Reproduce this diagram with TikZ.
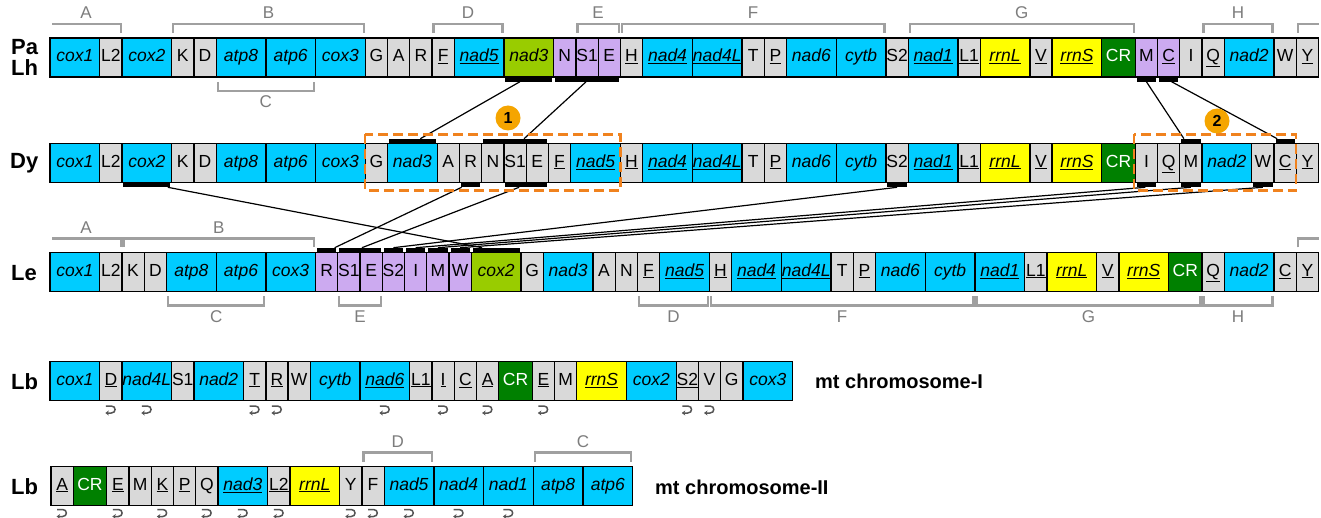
\documentclass[tikz,border=0pt]{standalone}
\usepackage{fontspec}
\setmainfont{Liberation Sans}
\usetikzlibrary{positioning,calc,arrows.meta}
\definecolor{geneC}{RGB}{0,204,255}
\definecolor{trnaC}{RGB}{217,217,217}
\definecolor{purpC}{RGB}{204,170,240}
\definecolor{limeC}{RGB}{153,204,0}
\definecolor{rrnaC}{RGB}{255,255,0}
\definecolor{crC}{RGB}{0,128,0}
\definecolor{brkC}{RGB}{160,160,160}
\definecolor{brkT}{RGB}{125,125,125}
\definecolor{oraC}{RGB}{240,130,30}
\definecolor{circC}{RGB}{245,165,0}
\definecolor{arrC}{RGB}{85,85,85}
\newcommand\bxfont{\fontsize{17.5}{18}\selectfont}
\newcommand\boxrow[4]{%
  \foreach \bst/\blab [count=\i] in {#4} {%
    \ifnum\i=1
      \node[\bst] (#1\i) at (#2,#3) {\blab};
    \else
      \pgfmathtruncatemacro\prv{\i-1}
      \node[\bst, right=0pt of #1\prv] (#1\i) {\blab};
    \fi
  }%
}
\newcommand\barbelow[2]{\fill ($(#1.south west)+(1.5,0.6)$) rectangle ($(#2.south east)+(-1.5,4.8)$);}
\newcommand\barabove[2]{\fill ($(#1.north west)+(1.5,-0.6)$) rectangle ($(#2.north east)+(-1.5,-4.8)$);}
\newcommand\brkabove[4]{%
  \draw[brk] ($(#1.north west)+(1.5,-5)$) -- ($(#1.north west)+(1.5,-14)$) -- ($(#2.north east)+(-1.5,-14)$) -- ($(#2.north east)+(-1.5,-5)$);
  \path ($(#1.north west)+(0,-25)$) -- ($(#2.north east)+(0,-25)$) node[brklab, midway] (#4) {#3};}
\newcommand\brkbelow[4]{%
  \draw[brk] ($(#1.south west)+(1.5,5)$) -- ($(#1.south west)+(1.5,14)$) -- ($(#2.south east)+(-1.5,14)$) -- ($(#2.south east)+(-1.5,5)$);
  \path ($(#1.south west)+(0,25)$) -- ($(#2.south east)+(0,25)$) node[brklab, midway] (#4) {#3};}
\tikzset{
  uturn/.pic={\draw[uturnline] (-5,-3.5) -- (0.5,-3.5) .. controls (5.5,-3.5) and (5.5,3.5) .. (0.5,3.5) -- (-5.5,3.5);}
}
\begin{document}
\begin{tikzpicture}[x=1pt,y=-1pt,
  box/.style={draw=black, line width=1.3pt, minimum height=39pt, inner sep=0pt, outer sep=0pt, anchor=west, text height=12.5pt, text depth=4pt, font=\bxfont},
  genebox/.style={box, fill=geneC, minimum width=49.7pt, font=\bxfont\itshape},
  limebox/.style={genebox, fill=limeC},
  rrnabox/.style={genebox, fill=rrnaC},
  trnabox/.style={box, fill=trnaC, minimum width=22.25pt},
  purpbox/.style={trnabox, fill=purpC},
  crbox/.style={box, fill=crC, text=white, minimum width=33.5pt},
  rowlab/.style={anchor=west, inner sep=0pt, font=\fontsize{22}{23}\selectfont\bfseries},
  chromlab/.style={anchor=west, inner sep=0pt, font=\fontsize{20}{22}\selectfont\bfseries},
  brk/.style={draw=brkC, line width=2.2pt},
  brklab/.style={text=brkT, inner sep=0pt, font=\fontsize{17}{17}\selectfont},
  conn/.style={draw=black, line width=1.2pt},
  orbox/.style={draw=oraC, line width=2.4pt, dash pattern=on 10pt off 5pt},
  numcirc/.style={circle, fill=circC, minimum size=25pt, inner sep=0pt, font=\fontsize{16}{16}\selectfont\bfseries},
  uturnline/.style={draw=arrC, line width=1.5pt, -{Stealth[length=3.5pt,width=5pt]}}
]
\useasboundingbox (0,0) rectangle (1321,518);
\fill[white] (0,0) rectangle (1321,518);

% ---------- rows ----------
\boxrow{pa}{50}{57.5}{genebox/cox1, trnabox/L2, genebox/cox2, trnabox/K, trnabox/D, genebox/atp8, genebox/atp6, genebox/cox3, trnabox/G, trnabox/A, trnabox/R, trnabox/\underline{F}, genebox/\underline{nad5}, limebox/nad3, purpbox/N, purpbox/S1, purpbox/E, trnabox/\underline{H}, genebox/\underline{nad4}, genebox/\underline{nad4L}, trnabox/T, trnabox/\underline{P}, genebox/nad6, genebox/cytb, trnabox/S2, genebox/\underline{nad1}, trnabox/\underline{L1}, rrnabox/\underline{rrnL}, trnabox/\underline{V}, rrnabox/\underline{rrnS}, crbox/CR, purpbox/M, purpbox/\underline{C}, trnabox/I, trnabox/\underline{Q}, genebox/nad2, trnabox/W, trnabox/\underline{Y}}

\boxrow{dy}{50}{163}{genebox/cox1, trnabox/L2, genebox/cox2, trnabox/K, trnabox/D, genebox/atp8, genebox/atp6, genebox/cox3, trnabox/G, genebox/nad3, trnabox/A, trnabox/R, trnabox/N, trnabox/S1, trnabox/E, trnabox/\underline{F}, genebox/\underline{nad5}, trnabox/\underline{H}, genebox/\underline{nad4}, genebox/\underline{nad4L}, trnabox/T, trnabox/\underline{P}, genebox/nad6, genebox/cytb, trnabox/S2, genebox/\underline{nad1}, trnabox/\underline{L1}, rrnabox/\underline{rrnL}, trnabox/\underline{V}, rrnabox/\underline{rrnS}, crbox/CR, trnabox/I, trnabox/\underline{Q}, trnabox/M, genebox/nad2, trnabox/W, trnabox/\underline{C}, trnabox/\underline{Y}}

\boxrow{le}{50}{272}{genebox/cox1, trnabox/L2, trnabox/K, trnabox/D, genebox/atp8, genebox/atp6, genebox/cox3, purpbox/R, purpbox/S1, purpbox/E, purpbox/S2, purpbox/I, purpbox/M, purpbox/W, limebox/cox2, trnabox/G, genebox/nad3, trnabox/A, trnabox/N, trnabox/\underline{F}, genebox/\underline{nad5}, trnabox/\underline{H}, genebox/\underline{nad4}, genebox/\underline{nad4L}, trnabox/T, trnabox/\underline{P}, genebox/nad6, genebox/cytb, genebox/\underline{nad1}, trnabox/\underline{L1}, rrnabox/\underline{rrnL}, trnabox/\underline{V}, rrnabox/\underline{rrnS}, crbox/CR, trnabox/\underline{Q}, genebox/nad2, trnabox/\underline{C}, trnabox/\underline{Y}}

\boxrow{lb}{50}{381}{genebox/cox1, trnabox/\underline{D}, genebox/nad4L, trnabox/S1, genebox/nad2, trnabox/\underline{T}, trnabox/\underline{R}, trnabox/W, genebox/cytb, genebox/\underline{nad6}, trnabox/\underline{L1}, trnabox/\underline{I}, trnabox/\underline{C}, trnabox/\underline{A}, crbox/CR, trnabox/\underline{E}, trnabox/M, rrnabox/\underline{rrnS}, genebox/cox2, trnabox/\underline{S2}, trnabox/V, trnabox/G, genebox/cox3}

\boxrow{lc}{51}{486}{trnabox/\underline{A}, crbox/CR, trnabox/\underline{E}, trnabox/M, trnabox/\underline{K}, trnabox/\underline{P}, trnabox/Q, genebox/\underline{nad3}, trnabox/\underline{L2}, rrnabox/\underline{rrnL}, trnabox/Y, trnabox/F, genebox/nad5, genebox/nad4, genebox/nad1, genebox/atp8, genebox/atp6}

% ---------- row labels ----------
\node[rowlab] (lpa) at (11,47) {Pa};
\node[rowlab] (llh) at (11,68) {Lh};
\node[rowlab] (ldy) at (10,163) {Dy};
\node[rowlab] (lle) at (11,273) {Le};
\node[rowlab] (llb) at (11,382) {Lb};
\node[rowlab] (llc) at (11,487) {Lb};
\node[chromlab] (chr1) at (815,381) {mt chromosome-I};
\node[chromlab] (chr2) at (655,487) {mt chromosome-II};

% ---------- brackets ----------
\draw[brk] ($(pa1.north west)+(2,-14)$) -- ($(pa2.north east)+(-1,-14)$) -- ($(pa2.north east)+(-1,-5)$);
\path ($(pa1.north west)+(0,-25)$) -- ($(pa2.north east)+(0,-25)$) node[brklab, midway] (bpaA) {A};
\brkabove{pa4}{pa8}{B}{bpaB}
\brkabove{pa12}{pa13}{D}{bpaD}
\brkabove{pa16}{pa17}{E}{bpaE}
\brkabove{pa18}{pa24}{F}{bpaF}
\brkabove{pa26}{pa31}{G}{bpaG}
\brkabove{pa35}{pa36}{H}{bpaH}
\draw[brk] ($(pa38.north west)+(1.5,-5)$) -- ($(pa38.north west)+(1.5,-14)$) -- ($(pa38.north east)+(0,-14)$);
\brkbelow{pa6}{pa7}{C}{bpaC}
\draw[brk] ($(le1.north west)+(2,-14)$) -- ($(le2.north east)+(-1,-14)$) -- ($(le2.north east)+(-1,-5)$);
\path ($(le1.north west)+(0,-25)$) -- ($(le2.north east)+(0,-25)$) node[brklab, midway] (bleA) {A};
\brkabove{le3}{le7}{B}{bleB}
\draw[brk] ($(le38.north west)+(1.5,-5)$) -- ($(le38.north west)+(1.5,-14)$) -- ($(le38.north east)+(0,-14)$);
\brkbelow{le5}{le6}{C}{bleC}
\brkbelow{le9}{le10}{E}{bleE}
\brkbelow{le20}{le21}{D}{bleD}
\brkbelow{le22}{le28}{F}{bleF}
\brkbelow{le29}{le34}{G}{bleG}
\brkbelow{le35}{le36}{H}{bleH}
\brkabove{lc12}{lc13}{D}{blcD}
\brkabove{lc16}{lc17}{C}{blcC}

% ---------- black bars ----------
\barbelow{pa14}{pa14} \barbelow{pa15}{pa17} \barbelow{pa32}{pa32} \barbelow{pa33}{pa33}
\barabove{dy10}{dy10} \barabove{dy13}{dy15} \barabove{dy34}{dy34} \barabove{dy37}{dy37}
\barbelow{dy3}{dy3} \barbelow{dy12}{dy12} \barbelow{dy14}{dy15} \barbelow{dy25}{dy25}
\barbelow{dy32}{dy32} \barbelow{dy34}{dy34} \barbelow{dy36}{dy36}
\barabove{le8}{le8} \barabove{le9}{le10} \barabove{le11}{le11} \barabove{le12}{le12}
\barabove{le13}{le13} \barabove{le14}{le14} \barabove{le15}{le15}

% ---------- connectors ----------
\coordinate (s1) at ($(pa14.south)+(-9,4.8)$);   \coordinate (t1) at ($(dy10.north)+(8,-4.8)$);
\coordinate (s2) at ($(pa16.south)+(-1,4.8)$);   \coordinate (t2) at ($(dy14.north)+(9,-4.8)$);
\coordinate (s3) at ($(pa32.south)+(0,4.8)$);    \coordinate (t3) at ($(dy34.north)+(-7,-4.8)$);
\coordinate (s4) at ($(pa33.south)+(3,4.8)$);    \coordinate (t4) at ($(dy37.north)+(-8,-4.8)$);
\coordinate (s5) at ($(dy3.south)+(21,4.8)$);    \coordinate (t5) at ($(le15.north)+(-14,-4.8)$);
\coordinate (s6) at ($(dy12.south)+(-9,4.8)$);   \coordinate (t6) at ($(le8.north)+(8,-4.8)$);
\coordinate (s7) at ($(dy14.south)+(4,4.8)$);    \coordinate (t7) at ($(le9.north)+(13,-4.8)$);
\coordinate (s8) at ($(dy25.south)+(0,4.8)$);    \coordinate (t8) at ($(le11.north)+(0,-4.8)$);
\coordinate (s9) at ($(dy32.south)+(-1,4.8)$);   \coordinate (t9) at ($(le12.north)+(0,-4.8)$);
\coordinate (s10) at ($(dy34.south)+(0,4.8)$);   \coordinate (t10) at ($(le13.north)+(0,-4.8)$);
\coordinate (s11) at ($(dy36.south)+(0,4.8)$);   \coordinate (t11) at ($(le14.north)+(0,-4.8)$);
\foreach \k in {1,...,11} { \draw[conn] (s\k) -- (t\k); }

% ---------- orange boxes ----------
\draw[orbox] ($(dy9.north west)+(0,-9)$) rectangle ($(dy17.south east)+(0,8)$);
\draw[orbox] ($(dy32.north west)+(-1.5,-9)$) rectangle ($(dy37.south east)+(0,8)$);
\node[numcirc] (n1) at (508,118) {1};
\node[numcirc] (n2) at (1217,121) {2};

% ---------- inversion marks ----------
\foreach \k in {2,3,6,7,10,12,14,16,20,21} { \pic at ($(lb\k.south)+(0,9)$) {uturn}; }
\foreach \k in {1,3,5,7,8,9,11,12,13,14,15} { \pic at ($(lc\k.south)+(0,7.5)$) {uturn}; }
\end{tikzpicture}
\end{document}
